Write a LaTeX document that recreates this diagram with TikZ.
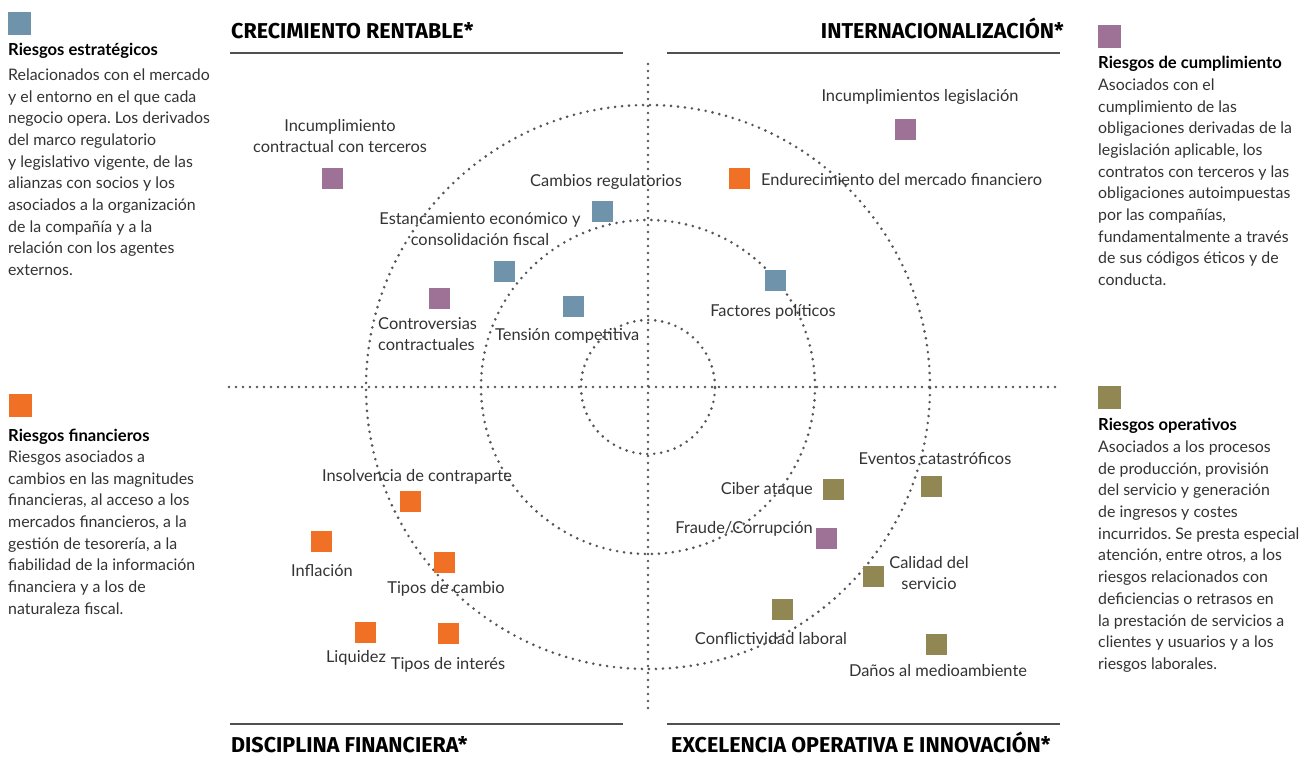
\documentclass[tikz,border=0pt]{standalone}
\usepackage{fontspec}
\setmainfont{Lato}
\newfontfamily\ttlfont{Fira Sans}
\frenchspacing
\definecolor{cblue}{HTML}{6E93AA}
\definecolor{cpurple}{HTML}{9E7196}
\definecolor{corange}{HTML}{F07125}
\definecolor{colive}{HTML}{918752}
\definecolor{txt}{HTML}{333333}
\definecolor{dotgray}{HTML}{55565C}
\definecolor{rulegray}{HTML}{505050}
\newcommand\labfnt{\fontsize{16.4}{21}\selectfont}
\newcommand\legfnt{\fontsize{15.9}{21.7}\selectfont}
\newcommand\leghfnt{\fontsize{16.6}{21.7}\selectfont}
\begin{document}
\begin{tikzpicture}[x=1pt,y=-1pt,
  dotline/.style={draw=dotgray, line width=2.9pt, line cap=round, dash pattern=on 0pt off 7pt},
  rule/.style={draw=rulegray, line width=2.6pt},
  sq/.style={minimum size=21pt, inner sep=0pt, outer sep=0pt},
  legsq/.style={minimum size=23pt, inner sep=0pt, outer sep=0pt},
  lab/.style={inner sep=0pt, text=txt, font=\labfnt},
  leghead/.style={inner sep=0pt, text=black, font=\leghfnt\bfseries, anchor=base west},
  legbody/.style={inner sep=0pt, text=txt, font=\legfnt, align=left, anchor=north west},
  ttl/.style={inner sep=0pt, text=black, font=\ttlfont\bfseries\fontsize{21.5}{24}\selectfont}]
\useasboundingbox (0,0) rectangle (1299,756);
\fill[white] (0,0) rectangle (1299,756);

% axes and circles
\coordinate (c) at (648,387);
\coordinate (vt) at (648,64);
\coordinate (vb) at (648,712);
\coordinate (hl) at (229,387);
\coordinate (hr) at (1060,387);
\draw[dotline] (vt) -- (vb);
\draw[dotline] (hl) -- (hr);
\draw[dotline] (c) circle[radius=67pt];
\draw[dotline] (c) circle[radius=167pt];
\draw[dotline] (c) circle[radius=282pt];

% titles and rules
\coordinate (r1a) at (230,53); \coordinate (r1b) at (623,53);
\coordinate (r2a) at (667,53); \coordinate (r2b) at (1060,53);
\coordinate (r3a) at (230,724); \coordinate (r3b) at (623,724);
\coordinate (r4a) at (667,724); \coordinate (r4b) at (1060,724);
\draw[rule] (r1a) -- (r1b);
\draw[rule] (r2a) -- (r2b);
\draw[rule] (r3a) -- (r3b);
\draw[rule] (r4a) -- (r4b);
\node[ttl, anchor=base west] (t1) at (231,38) {CRECIMIENTO RENTABLE*};
\node[ttl, anchor=base east] (t2) at (1064,38) {INTERNACIONALIZACIÓN*};
\node[ttl, anchor=base west] (t3) at (231,752) {DISCIPLINA FINANCIERA*};
\node[ttl, anchor=base west] (t4) at (671,752) {EXCELENCIA OPERATIVA E INNOVACIÓN*};

% legends
\node[legsq, fill=cblue] (ls1) at (19.5,23.5) {};
\node[leghead] (lh1) at (8,55) {Riesgos estratégicos};
\node[legbody] (lb1) at (8,65) {\strut Relacionados con el mercado\\y el entorno en el que cada\\negocio opera. Los derivados\\del marco regulatorio\\y legislativo vigente, de las\\alianzas con socios y los\\asociados a la organización\\de la compañía y a la\\relación con los agentes\\externos.};

\node[legsq, fill=corange] (ls2) at (20.5,405.5) {};
\node[leghead] (lh2) at (8,441) {Riesgos financieros};
\node[legbody] (lb2) at (8,447) {\strut Riesgos asociados a\\cambios en las magnitudes\\financieras, al acceso a los\\mercados financieros, a la\\gestión de tesorería, a la\\fiabilidad de la información\\financiera y a los de\\naturaleza fiscal.};

\node[legsq, fill=cpurple] (ls3) at (1109.5,36.5) {};
\node[leghead] (lh3) at (1098,68) {Riesgos de cumplimiento};
\node[legbody] (lb3) at (1098,75) {\strut Asociados con el\\cumplimiento de las\\obligaciones derivadas de la\\legislación aplicable, los\\contratos con terceros y las\\obligaciones autoimpuestas\\por las compañías,\\fundamentalmente a través\\de sus códigos éticos y de\\conducta.};

\node[legsq, fill=colive] (ls4) at (1109.5,397.5) {};
\node[leghead] (lh4) at (1098,430) {Riesgos operativos};
\node[legbody] (lb4) at (1098,437) {\strut Asociados a los procesos\\de producción, provisión\\del servicio y generación\\de ingresos y costes\\incurridos. Se presta especial\\atención, entre otros, a los\\riesgos relacionados con\\deficiencias o retrasos en\\la prestación de servicios a\\clientes y usuarios y a los\\riesgos laborales.};

% risk squares
\node[sq, fill=cpurple] (s1) at (332,178) {};
\node[sq, fill=cblue] (s2) at (602,211) {};
\node[sq, fill=cblue] (s3) at (504,271) {};
\node[sq, fill=cpurple] (s4) at (439,298) {};
\node[sq, fill=cblue] (s5) at (573,306) {};
\node[sq, fill=cpurple] (s6) at (905,129) {};
\node[sq, fill=corange] (s7) at (739,178) {};
\node[sq, fill=cblue] (s8) at (775,280) {};
\node[sq, fill=corange] (s9) at (410,501) {};
\node[sq, fill=corange] (s10) at (321,541) {};
\node[sq, fill=corange] (s11) at (444,562) {};
\node[sq, fill=corange] (s12) at (365,632) {};
\node[sq, fill=corange] (s13) at (448,633) {};
\node[sq, fill=colive] (s14) at (833,489) {};
\node[sq, fill=colive] (s15) at (931,486) {};
\node[sq, fill=cpurple] (s16) at (826,538) {};
\node[sq, fill=colive] (s17) at (873,576) {};
\node[sq, fill=colive] (s18) at (782,609) {};
\node[sq, fill=colive] (s19) at (936,644) {};

% risk labels
\node[lab, align=center, anchor=north] (l1) at (340,117) {\strut Incumplimiento\\contractual con terceros};
\node[lab, anchor=base west] (l2) at (530,186) {Cambios regulatorios};
\node[lab, align=center, anchor=north] (l3) at (480,210) {\strut Estancamiento económico y\\consolidación fiscal};
\node[lab, align=left, anchor=north west] (l4) at (378,315) {\strut Controversias\\contractuales};
\node[lab, anchor=base west] (l5) at (495,340) {Tensión competitiva};
\node[lab, anchor=base] (l6) at (920,101) {Incumplimientos legislación};
\node[lab, anchor=base west] (l7) at (761,185) {Endurecimiento del mercado financiero};
\node[lab, anchor=base] (l8) at (773,316) {Factores políticos};
\node[lab, anchor=base] (l9) at (417,481) {Insolvencia de contraparte};
\node[lab, anchor=base] (l10) at (322,576) {Inflación};
\node[lab, anchor=base] (l11) at (446,593) {Tipos de cambio};
\node[lab, anchor=base] (l12) at (356,662) {Liquidez};
\node[lab, anchor=base] (l13) at (448,669) {Tipos de interés};
\node[lab, anchor=base east] (l14) at (813,494) {Ciber ataque};
\node[lab, anchor=base] (l15) at (935,464) {Eventos catastróficos};
\node[lab, anchor=base east] (l16) at (813,533) {Fraude/Corrupción};
\node[lab, align=center, anchor=north] (l17) at (929,554) {\strut Calidad del\\servicio};
\node[lab, anchor=base] (l18) at (771,644) {Conflictividad laboral};
\node[lab, anchor=base] (l19) at (938,676) {Daños al medioambiente};
\end{tikzpicture}
\end{document}
